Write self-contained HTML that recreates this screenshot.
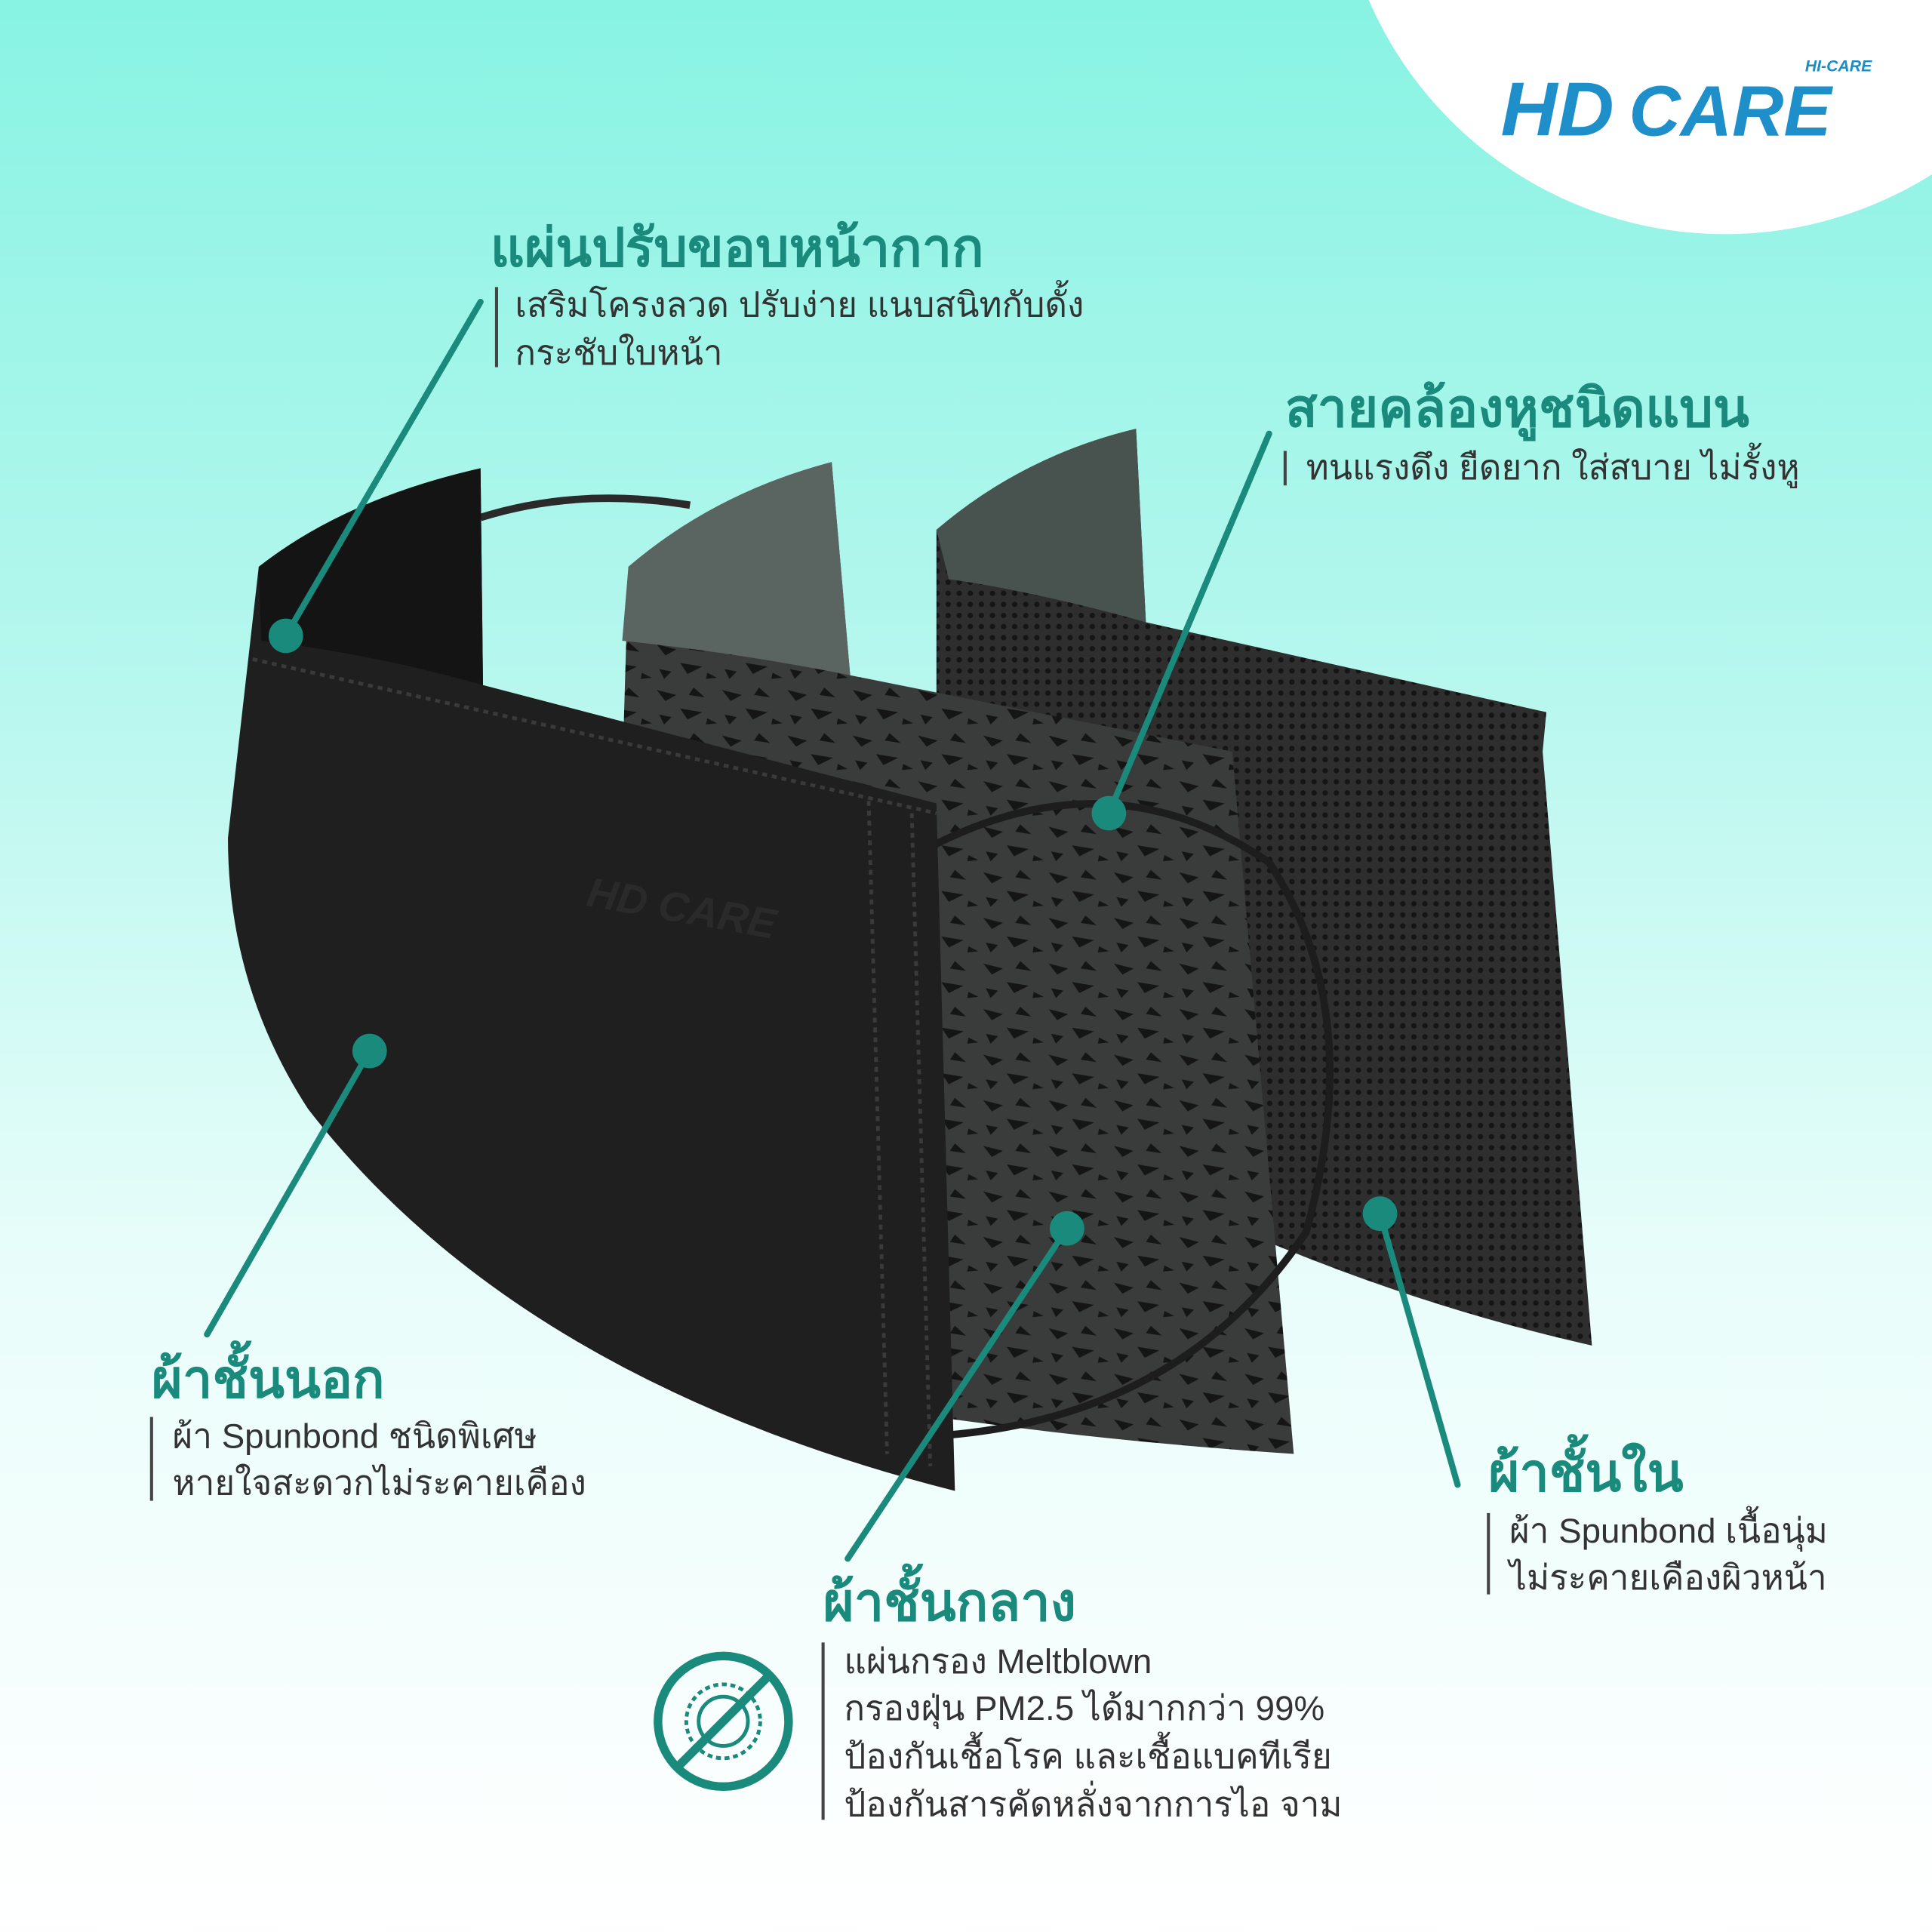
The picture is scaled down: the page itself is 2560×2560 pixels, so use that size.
<!DOCTYPE html>
<html><head><meta charset="utf-8"><style>
html,body{margin:0;padding:0;width:2560px;height:2560px;overflow:hidden}
svg{display:block}
text{font-family:"Liberation Sans","Noto Sans CJK SC",sans-serif}
</style></head><body>
<svg width="2560" height="2560" viewBox="0 0 1568 1568" xmlns="http://www.w3.org/2000/svg">
<defs>
<linearGradient id="bg" x1="0" y1="0" x2="0" y2="1">
<stop offset="0" stop-color="#88f3e3"/>
<stop offset="0.35" stop-color="#b6f7ee"/>
<stop offset="0.65" stop-color="#e8fdfa"/>
<stop offset="1" stop-color="#ffffff"/>
</linearGradient>
<pattern id="dots" width="9" height="9" patternUnits="userSpaceOnUse">
<rect width="9" height="9" fill="#2e2e2e"/>
<circle cx="4.5" cy="4.5" r="2.2" fill="#151515"/>
</pattern>
<pattern id="mottle" width="53" height="37" patternUnits="userSpaceOnUse">
<rect width="53" height="37" fill="#3a3c3c"/>
<path d="M3 5 l16 4 l-9 5z M22 20 l18 3 l-12 6z M33 3 l9 8 l-13 -2z M5 25 l10 2 l-6 6z M44 28 l8 4 l-9 1z" fill="#151515"/>
</pattern>
</defs>
<rect width="1568" height="1568" fill="url(#bg)"/>
<circle cx="1400" cy="-125" r="315" fill="#fff"/>
<text x="1465" y="58" font-size="13" font-weight="bold" font-style="italic" fill="#1b8cc4">HI-CARE</text>
<text x="1218" y="110" font-size="62" font-weight="bold" font-style="italic" fill="#1e8fc8" textLength="92" lengthAdjust="spacingAndGlyphs">HD</text>
<text x="1322" y="110" font-size="58" font-weight="bold" font-style="italic" fill="#1e8fc8">CARE</text>

<path d="M760 430 Q830 370 922 348 L930 505 L1255 578 L1252 610 L1292 1092 Q1150 1060 1010 1000 L760 700 Z" fill="url(#dots)"/>
<path d="M760 430 Q830 370 922 348 L930 505 Q840 480 770 470 Z" fill="#48534f"/>
<path d="M510 460 Q580 400 675 375 L690 548 L1000 610 L1050 1180 Q900 1170 760 1150 L500 800 Z" fill="url(#mottle)"/>
<path d="M510 460 Q580 400 675 375 L690 548 Q600 530 505 520 Z" fill="#5a6562"/>
<path d="M390 420 Q470 395 560 410" stroke="#2a2a2a" stroke-width="6" fill="none"/>
<path d="M750 690 Q900 610 1030 700 Q1110 820 1060 1000 Q960 1150 765 1165" stroke="#1d1d1d" stroke-width="6" fill="none"/>
<path d="M210 460 Q280 405 390 380 L392 556 L760 652 L775 1210 Q420 1120 250 900 Q185 800 185 680 Z" fill="#1f1f1f"/>
<path d="M210 460 Q280 405 390 380 L392 556 Q300 530 212 520 Z" fill="#141414"/>
<path d="M205 535 L760 660" stroke="#3a3a3a" stroke-width="3" stroke-dasharray="4 4" fill="none"/>
<path d="M705 650 L720 1180 M740 660 L755 1190" stroke="#3a3a3a" stroke-width="3" stroke-dasharray="4 4" fill="none"/>
<text x="475" y="735" font-size="34" font-weight="bold" font-style="italic" fill="#2a2a2a" transform="rotate(10 475 735)">HD CARE</text>

<g stroke="#1a8a7c" stroke-width="5" stroke-linecap="round">
<line x1="232" y1="516" x2="390" y2="245"/>
<line x1="900" y1="660" x2="1030" y2="352"/>
<line x1="300" y1="853" x2="168" y2="1083"/>
<line x1="866" y1="997" x2="688" y2="1265"/>
<line x1="1120" y1="985" x2="1183" y2="1205"/>
</g>
<g fill="#1a8a7c">
<circle cx="232" cy="516" r="14"/><circle cx="900" cy="660" r="14"/>
<circle cx="300" cy="853" r="14"/><circle cx="866" cy="997" r="14"/>
<circle cx="1120" cy="985" r="14"/>
</g>

<g stroke="#444" stroke-width="2.5">
<line x1="403" y1="233" x2="403" y2="298"/>
<line x1="1043" y1="366" x2="1043" y2="394"/>
<line x1="123" y1="1150" x2="123" y2="1218"/>
<line x1="1208" y1="1228" x2="1208" y2="1294"/>
<line x1="668" y1="1333" x2="668" y2="1477"/>
</g>

<g font-weight="bold" fill="#1a8a7c" font-size="43">
<text x="398" y="216">แผ่นปรับขอบหน้ากาก</text>
<text x="1043" y="346">สายคล้องหูชนิดแบน</text>
<text x="123" y="1134">ผ้าชั้นนอก</text>
<text x="1208" y="1210">ผ้าชั้นใน</text>
<text x="668" y="1315">ผ้าชั้นกลาง</text>
</g>
<g fill="#333" font-size="28">
<text x="418" y="257">เสริมโครงลวด ปรับง่าย แนบสนิทกับดั้ง</text>
<text x="418" y="296">กระชับใบหน้า</text>
<text x="1060" y="389">ทนแรงดึง ยืดยาก ใส่สบาย ไม่รั้งหู</text>
<text x="140" y="1175">ผ้า Spunbond ชนิดพิเศษ</text>
<text x="140" y="1213">หายใจสะดวกไม่ระคายเคือง</text>
<text x="1225" y="1252">ผ้า Spunbond เนื้อนุ่ม</text>
<text x="1225" y="1290">ไม่ระคายเคืองผิวหน้า</text>
<text x="685" y="1358">แผ่นกรอง Meltblown</text>
<text x="685" y="1396">กรองฝุ่น PM2.5 ได้มากกว่า 99%</text>
<text x="685" y="1435">ป้องกันเชื้อโรค และเชื้อแบคทีเรีย</text>
<text x="685" y="1474">ป้องกันสารคัดหลั่งจากการไอ จาม</text>
</g>

<g stroke="#1a8a7c" fill="none">
<circle cx="587" cy="1397" r="53" stroke-width="7"/>
<circle cx="587" cy="1397" r="30" stroke-width="3" stroke-dasharray="4 3"/>
<circle cx="587" cy="1397" r="20" stroke-width="3"/>
<line x1="550" y1="1434" x2="624" y2="1360" stroke-width="7"/>
</g>
</svg>
</body></html>
